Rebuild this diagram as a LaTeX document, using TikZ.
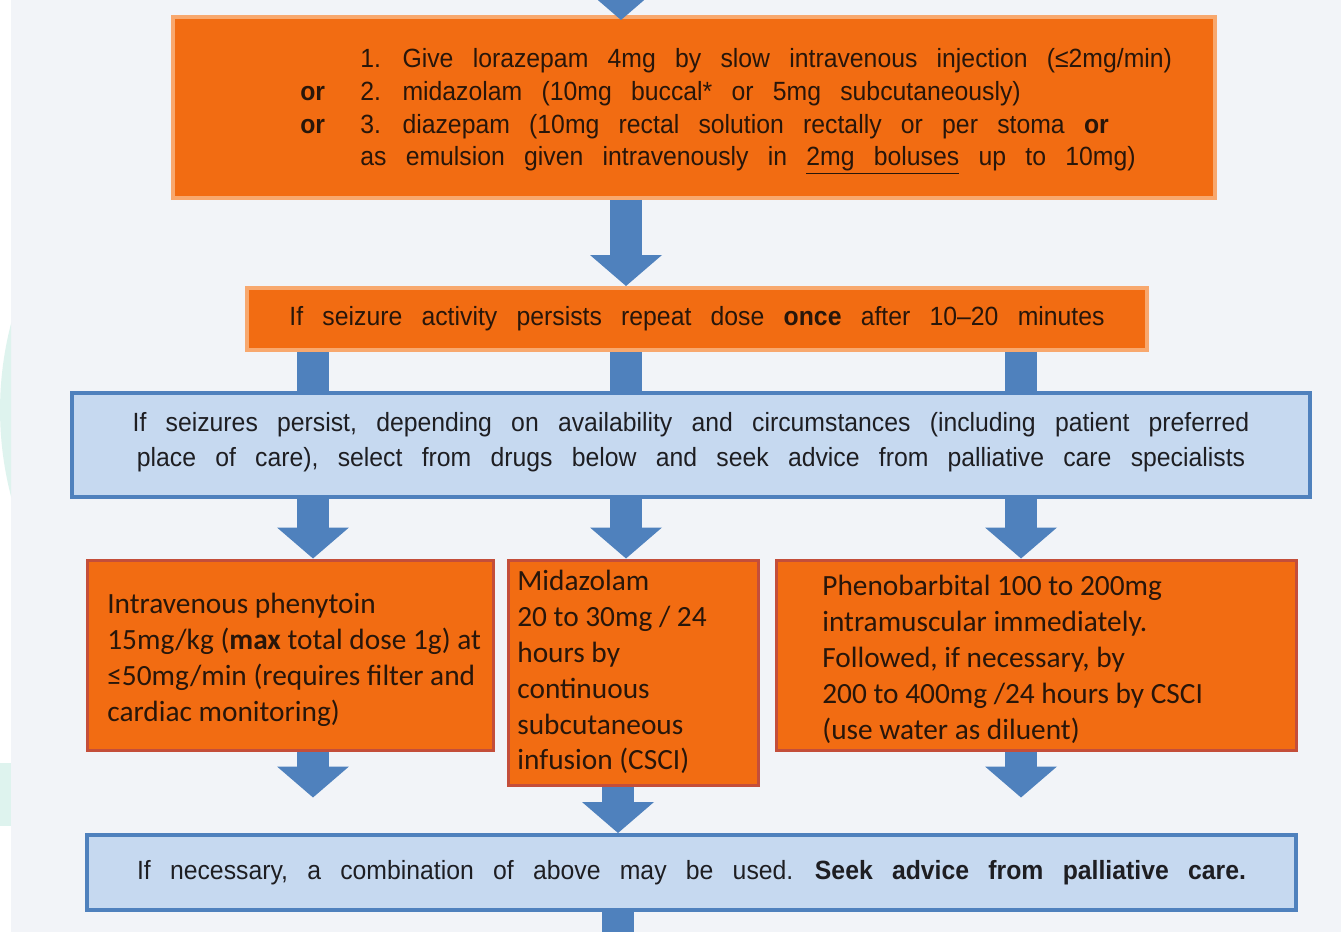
\documentclass[tikz,border=0pt]{standalone}
\usepackage{fontspec}
\setmainfont{Liberation Sans}[FakeStretch=0.94,WordSpace=2.8]
\newfontfamily\bodyfont{Carlito}
\usetikzlibrary{arrows.meta,fit}

\definecolor{slidebg}{RGB}{242,244,248}
\definecolor{doseorange}{RGB}{242,108,18}
\definecolor{doseedge}{RGB}{248,168,110}
\definecolor{drugedge}{RGB}{196,78,58}
\definecolor{advicefill}{RGB}{198,217,240}
\definecolor{adviceedge}{RGB}{79,129,189}
\definecolor{flowblue}{RGB}{79,129,189}
\definecolor{inkdark}{RGB}{40,22,10}
\definecolor{inkgrey}{RGB}{30,30,34}
\definecolor{logoteal}{RGB}{222,243,238}

\tikzset{
  dosebox/.style={fill=doseorange, draw=doseedge, line width=0.8mm, inner sep=0pt},
  drugbox/.style={fill=doseorange, draw=drugedge, line width=0.6mm, inner sep=0pt},
  advicebox/.style={fill=advicefill, draw=adviceedge, line width=0.8mm, inner sep=0pt},
  narrowtext/.style={inner sep=0pt, font=\fontsize{15}{18.7}\selectfont},
  bodytext/.style={inner sep=0pt, align=left, text=inkdark,
                   font=\bodyfont\fontsize{16.7}{20.4}\selectfont, anchor=north west},
  flow/.style={draw=flowblue, line width=6.4mm,
               -{Triangle[width=14.4mm,length=6.2mm,line width=0pt]}},
  shaft/.style={draw=flowblue, line width=6.4mm}
}

\begin{document}
\begin{tikzpicture}[x=0.02cm,y=-0.02cm]
  \useasboundingbox (0,0) rectangle (1341,932);
  \clip (0,0) rectangle (1341,932);

  % slide backdrop and logo remains
  \fill[slidebg] (0,0) rectangle (1341,932);
  \fill[white] (0,0) rectangle (11,932);
  \begin{scope}
    \clip (0,0) rectangle (11,932);
    \fill[logoteal] (343,410) circle (6.86cm);
    \fill[logoteal] (0,763) rectangle (11,826);
  \end{scope}

  % columns of the arrows
  \coordinate (inflow) at (621,-40);
  \coordinate (colL) at (313,0);
  \coordinate (colM) at (626,0);
  \coordinate (colR) at (1021,0);
  \coordinate (colB) at (618,0);
  \coordinate (outflow) at (618,960);

  % boxes
  \node[dosebox, fit={(173,17) (1215,198)}] (benzo) {};
  \node[dosebox, fit={(247,288) (1147,350)}] (repeat) {};
  \node[advicebox, fit={(72,393) (1310,497)}] (select) {};
  \node[drugbox, fit={(87,560) (493,750)}] (phenytoin) {};
  \node[drugbox, fit={(508,560) (758,785)}] (midazolam) {};
  \node[drugbox, fit={(776,560) (1296,750)}] (phenobarb) {};
  \node[advicebox, fit={(87,835) (1296,910)}] (combine) {};

  % texts
  \node[narrowtext, text=inkdark, anchor=north west] (benzotxt) at (300,44) {%
    \def\arraystretch{1.0}%
    \begin{tabular}{@{}p{1.2cm}@{}l@{}}
                  & 1. Give lorazepam 4mg by slow intravenous injection (≤2mg/min)\\
    \textbf{or}   & 2. midazolam (10mg buccal* or 5mg subcutaneously)\\
    \textbf{or}   & 3. diazepam (10mg rectal solution rectally or per stoma \textbf{or}\\
                  & as emulsion given intravenously in \underline{2mg boluses} up to 10mg)
    \end{tabular}};
  \node[narrowtext, text=inkdark] (repeattxt) at (repeat.center)
    {If seizure activity persists repeat dose \textbf{once} after 10–20 minutes};
  \node[narrowtext, text=inkgrey, align=center, font=\fontsize{15}{19.8}\selectfont]
    (selecttxt) at ([yshift=0.06cm]select.center)
    {If seizures persist, depending on availability and circumstances (including patient preferred\\
     place of care), select from drugs below and seek advice from palliative care specialists};
  \node[bodytext] (phenytointxt) at (107,593)
    {Intravenous phenytoin\\15mg/kg (\textbf{max} total dose 1g) at\\≤50mg/min (requires filter and\\cardiac monitoring)};
  \node[bodytext] (midazolamtxt) at (517,570)
    {Midazolam\\20 to 30mg / 24\\hours by\\continuous\\subcutaneous\\infusion (CSCI)};
  \node[bodytext] (phenobarbtxt) at (822,575)
    {Phenobarbital 100 to 200mg\\intramuscular immediately.\\Followed, if necessary, by\\200 to 400mg /24 hours by CSCI\\(use water as diluent)};
  \node[narrowtext, text=inkgrey] (combinetxt) at (combine.center)
    {If necessary, a combination of above may be used. \textbf{Seek advice from palliative care.}};

  % block arrows
  \draw[flow] (inflow) -- ([yshift=-0.1cm]benzo.north -| inflow);
  \draw[flow] (benzo.south -| colM) -- (repeat.north -| colM);
  \foreach \col in {colL,colM,colR}
    \draw[shaft] (repeat.south -| \col) -- (select.north -| \col);
  \draw[flow] (select.south -| colL) -- (phenytoin.north -| colL);
  \draw[flow] (select.south -| colM) -- (midazolam.north -| colM);
  \draw[flow] (select.south -| colR) -- (phenobarb.north -| colR);
  \draw[flow] (phenytoin.south -| colL) -- ([yshift=-0.92cm]phenytoin.south -| colL);
  \draw[flow] (phenobarb.south -| colR) -- ([yshift=-0.92cm]phenobarb.south -| colR);
  \draw[flow] (midazolam.south -| colB) -- (combine.north -| colB);
  \draw[shaft] (combine.south -| colB) -- (outflow);
\end{tikzpicture}
\end{document}
